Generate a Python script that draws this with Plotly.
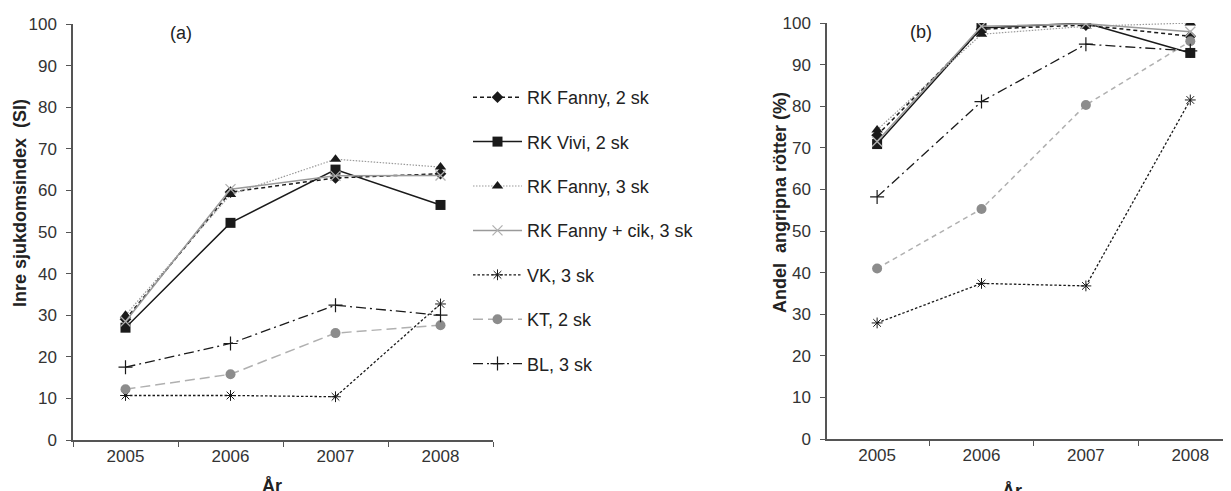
import plotly.graph_objects as go

years = ["2005", "2006", "2007", "2008"]
series_names = ["RK Fanny, 2 sk", "RK Vivi, 2 sk", "RK Fanny, 3 sk",
                "RK Fanny + cik, 3 sk", "VK, 3 sk", "KT, 2 sk", "BL, 3 sk"]

# Panel (a): Inre sjukdomsindex (SI)
si_fanny2 = [29.0, 59.6, 63.0, 64.0]
si_vivi2 = [27.0, 52.2, 65.0, 56.5]
si_fanny3 = [30.0, 59.0, 67.5, 65.6]
si_fanny_cik3 = [28.5, 60.3, 63.5, 63.6]
si_vk3 = [10.7, 10.7, 10.4, 32.7]
si_kt2 = [12.2, 15.8, 25.7, 27.6]
si_bl3 = [17.5, 23.2, 32.4, 30.0]

# Panel (b): Andel angripna rötter (%)
ar_fanny2 = [73.0, 98.5, 99.5, 96.8]
ar_vivi2 = [70.9, 98.8, 100.0, 92.8]
ar_fanny3 = [74.3, 97.3, 99.2, 100.0]
ar_fanny_cik3 = [71.5, 99.2, 99.8, 97.9]
ar_vk3 = [27.9, 37.4, 36.8, 81.5]
ar_kt2 = [41.0, 55.3, 80.3, 95.6]
ar_bl3 = [58.2, 81.1, 94.9, 93.3]

y_ticks = [0, 10, 20, 30, 40, 50, 60, 70, 80, 90, 100]

# page body has an 8px default margin; size the figure to fill the window
OFF = 8
W, H = 1231 - OFF, 491 - OFF
FONT = "Liberation Sans, Arial, sans-serif"

styles = [
    dict(line=dict(color="#1a1a1a", width=1.5, dash="4px,3px"),
         marker=dict(symbol="diamond", size=9, color="#1a1a1a")),
    dict(line=dict(color="#1a1a1a", width=1.5),
         marker=dict(symbol="square", size=10, color="#1a1a1a")),
    dict(line=dict(color="#9a9a9a", width=1.2, dash="1.5px,1.5px"),
         marker=dict(symbol="triangle-up", size=10, color="#1a1a1a")),
    dict(line=dict(color="#9a9a9a", width=1.5),
         marker=dict(symbol="x-thin", size=10, color="#b0b0b0",
                     line=dict(color="#b0b0b0", width=1.3))),
    dict(line=dict(color="#1a1a1a", width=1.3, dash="2.5px,2px"),
         marker=dict(symbol="asterisk-open", size=9, color="#1a1a1a",
                     line=dict(color="#1a1a1a", width=1.0))),
    dict(line=dict(color="#b0b0b0", width=1.5, dash="10px,5px"),
         marker=dict(symbol="circle", size=10, color="#8c8c8c")),
    dict(line=dict(color="#1a1a1a", width=1.3, dash="10px,4px,2px,4px"),
         marker=dict(symbol="cross-thin-open", size=10, color="#1a1a1a",
                     line=dict(color="#1a1a1a", width=1.2))),
]

data_a = [si_fanny2, si_vivi2, si_fanny3, si_fanny_cik3, si_vk3, si_kt2, si_bl3]
data_b = [ar_fanny2, ar_vivi2, ar_fanny3, ar_fanny_cik3, ar_vk3, ar_kt2, ar_bl3]

fig = go.Figure()
for i, (name, vals) in enumerate(zip(series_names, data_a)):
    st = styles[i]
    fig.add_trace(go.Scatter(x=years, y=vals, name=name, mode="lines+markers",
                             line=st["line"], marker=st["marker"],
                             legendgroup=name, showlegend=True,
                             xaxis="x", yaxis="y"))
for i, (name, vals) in enumerate(zip(series_names, data_b)):
    st = styles[i]
    line = dict(st["line"])
    if i == 5:
        line["dash"] = "5px,4px"
    fig.add_trace(go.Scatter(x=years, y=vals, name=name, mode="lines+markers",
                             line=line, marker=st["marker"],
                             legendgroup=name, showlegend=False,
                             xaxis="x2", yaxis="y2"))


def px_x(p):
    return (p - OFF) / W


def px_y(p):
    return 1 - (p - OFF) / H


axis_common_x = dict(type="category", categoryorder="array", categoryarray=years,
                     tickson="boundaries", ticks="outside", ticklen=5,
                     tickcolor="#555", tickwidth=1.3, automargin=False,
                     showline=True, linecolor="#555", linewidth=1.5,
                     showgrid=False, zeroline=False,
                     tickfont=dict(family=FONT, size=17, color="#333"))
axis_common_y = dict(range=[0, 100], tickvals=y_ticks, ticks="outside", ticklen=5,
                     tickcolor="#555", tickwidth=1.3, automargin=False,
                     showline=True, linecolor="#555", linewidth=1.5,
                     showgrid=False, zeroline=False, ticklabelstandoff=6,
                     tickfont=dict(family=FONT, size=17, color="#333"))

ann_font = dict(family=FONT, size=18, color="#222")

fig.update_layout(
    width=W, height=H,
    margin=dict(l=0, r=0, t=0, b=0, autoexpand=False),
    paper_bgcolor="white", plot_bgcolor="white",
    font=dict(family=FONT, color="#222"),
    xaxis=dict(axis_common_x, domain=[px_x(73), px_x(493)], range=[-0.5, 3.5],
               anchor="y"),
    yaxis=dict(axis_common_y, domain=[px_y(440), px_y(24)], anchor="x"),
    xaxis2=dict(axis_common_x, domain=[px_x(827), 1.0], range=[-0.48, 3.39],
                anchor="y2"),
    yaxis2=dict(axis_common_y, domain=[px_y(439), px_y(23)], anchor="x2"),
    legend=dict(x=px_x(468), y=px_y(79), xanchor="left", yanchor="top",
                font=dict(family=FONT, size=18, color="#222"),
                tracegroupgap=18, itemwidth=49, bgcolor="rgba(0,0,0,0)"),
    showlegend=True,
    annotations=[
        dict(text="(a)", x=px_x(181), y=px_y(33), xref="paper", yref="paper",
             xanchor="center", yanchor="middle", showarrow=False, font=ann_font),
        dict(text="(b)", x=px_x(921), y=px_y(32), xref="paper", yref="paper",
             xanchor="center", yanchor="middle", showarrow=False, font=ann_font),
        dict(text="<b>Inre sjukdomsindex\u00a0 (SI)</b>", x=px_x(20), y=px_y(203),
             xref="paper", yref="paper", textangle=-90, showarrow=False,
             xanchor="center", yanchor="middle", font=ann_font),
        dict(text="<b>Andel\u00a0 angripna rötter (%)</b>", x=px_x(780), y=px_y(203),
             xref="paper", yref="paper", textangle=-90, showarrow=False,
             xanchor="center", yanchor="middle", font=ann_font),
        dict(text="<b>År</b>", x=px_x(272), y=px_y(474), xref="paper", yref="paper",
             xanchor="center", yanchor="top", showarrow=False, font=ann_font),
        dict(text="<b>År</b>", x=px_x(1012), y=px_y(479), xref="paper", yref="paper",
             xanchor="center", yanchor="top", showarrow=False, font=ann_font),
    ],
)

fig.write_html("out.html")
